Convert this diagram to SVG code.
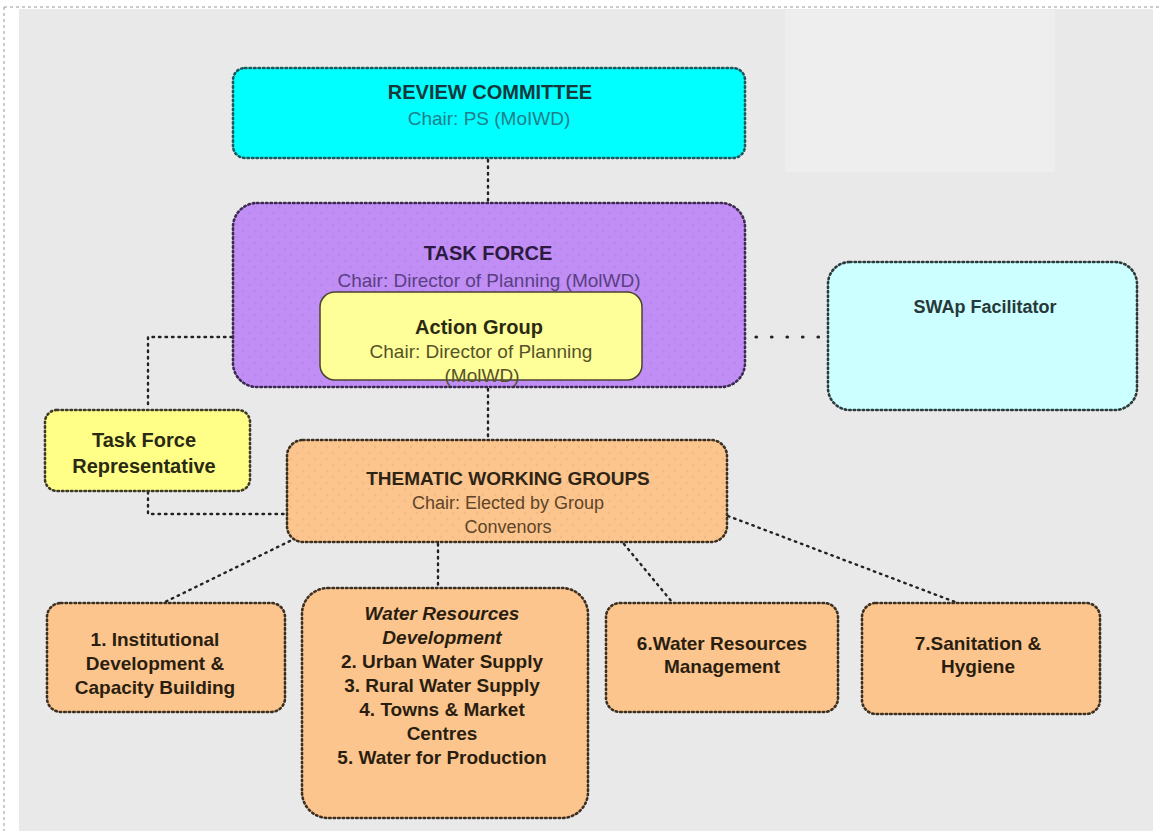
<svg xmlns="http://www.w3.org/2000/svg" width="1162" height="831" viewBox="0 0 1162 831">
<defs>
<style>
text{font-family:"Liberation Sans",Arial,sans-serif;text-anchor:middle}
.b{font-weight:bold}
.box{stroke-width:2.6;stroke-dasharray:1.5 3;stroke-linecap:round}
.con{fill:none;stroke:#222;stroke-width:2.4;stroke-dasharray:1.5 5;stroke-linecap:round}
.wide{stroke-width:3.2;stroke-dasharray:0.5 15}
</style>
<pattern id="dots" width="12" height="12" patternUnits="userSpaceOnUse">
<circle cx="3" cy="3" r="1.2" fill="#000" fill-opacity="0.05"/>
<circle cx="9" cy="9" r="1.2" fill="#000" fill-opacity="0.05"/>
</pattern>
</defs>
<rect x="0" y="0" width="1162" height="831" fill="#ffffff"/>
<rect x="19" y="9" width="1134" height="822" fill="#e9e9e9"/>
<rect x="785" y="10" width="270" height="162" fill="#eeeeee"/>
<path d="M4 7H1162M4 7V831" fill="none" stroke="#9a9a9a" stroke-width="1" stroke-dasharray="3 3"/>

<g id="connectors">
<line class="con" x1="488" y1="160" x2="488" y2="202"/>
<line class="con" x1="488" y1="389" x2="488" y2="439"/>
<line x1="236" y1="337" x2="320" y2="337" stroke="#7a4aa0" stroke-width="1.5" stroke-dasharray="3 1"/>
<line x1="642" y1="337" x2="745" y2="337" stroke="#7a4aa0" stroke-width="1.5"/>
<line class="con wide" x1="756" y1="337" x2="826" y2="337"/>
<polyline class="con" points="232,337 148,337 148,409"/>
<polyline class="con" points="148,492 148,514 286,514"/>
<line class="con" x1="290" y1="541" x2="165" y2="602"/>
<line class="con" x1="438" y1="544" x2="438" y2="587"/>
<line class="con" x1="624" y1="544" x2="672" y2="602"/>
<line class="con" x1="728" y1="516" x2="955" y2="602"/>
</g>

<g id="review-committee">
<rect class="box" x="233" y="68" width="512" height="90" rx="12" fill="#00ffff" stroke="#1d5a5e"/>
<text x="490" y="99" class="b" font-size="20" fill="#16383c">REVIEW COMMITTEE</text>
<text x="489" y="125" font-size="19" fill="#1f7f8c">Chair: PS (MoIWD)</text>
</g>

<g id="task-force">
<rect class="box" x="233" y="203" width="512" height="184" rx="24" fill="#c18ef6" stroke="#3c2a52"/>
<rect x="233" y="203" width="512" height="184" rx="24" fill="url(#dots)"/>
<text x="488" y="260" class="b" font-size="20" fill="#2c1a40">TASK FORCE</text>
<text x="489" y="287" font-size="19" fill="#5a3f82">Chair: Director of Planning (MolWD)</text>
</g>

<g id="action-group">
<rect x="320" y="292" width="322" height="88" rx="15" fill="#ffff99" stroke="#4a4330" stroke-width="1.5"/>
<text x="479" y="334" class="b" font-size="20" fill="#2a2a12">Action Group</text>
<text x="481" y="358" font-size="19" fill="#55522a">Chair: Director of Planning</text>
<text x="482" y="382" font-size="19" fill="#55522a">(MolWD)</text>
</g>

<g id="swap-facilitator">
<rect class="box" x="828" y="262" width="309" height="148" rx="22" fill="#ccffff" stroke="#2c3c3c"/>
<text x="985" y="313" class="b" font-size="18" fill="#283838">SWAp  Facilitator</text>
</g>

<g id="task-force-representative">
<rect class="box" x="45" y="410" width="205" height="81" rx="12" fill="#ffff88" stroke="#3e3a28"/>
<text x="144" y="447" class="b" font-size="20" fill="#2a2a12">Task Force</text>
<text x="144" y="473" class="b" font-size="20" fill="#2a2a12">Representative</text>
</g>

<g id="thematic-working-groups">
<rect class="box" x="287" y="440" width="440" height="102" rx="16" fill="#fcc58e" stroke="#3e3020"/>
<rect x="287" y="440" width="440" height="102" rx="16" fill="url(#dots)"/>
<text x="508" y="485" class="b" font-size="19" fill="#2e2414">THEMATIC WORKING GROUPS</text>
<text x="508" y="509" font-size="18" fill="#5e4428">Chair: Elected by Group</text>
<text x="508" y="533" font-size="18" fill="#5e4428">Convenors</text>
</g>

<g id="group-1">
<rect class="box" x="47" y="603" width="238" height="109" rx="14" fill="#fcc58e" stroke="#3e3020"/>
<text x="155" y="646" class="b" font-size="19" fill="#2a1e10">1. Institutional</text>
<text x="155" y="670" class="b" font-size="19" fill="#2a1e10">Development &amp;</text>
<text x="155" y="694" class="b" font-size="19" fill="#2a1e10">Capacity Building</text>
</g>

<g id="group-2-5">
<rect class="box" x="302" y="588" width="286" height="230" rx="26" fill="#fcc58e" stroke="#3e3020"/>
<text x="442" y="620" class="b" font-size="19" font-style="italic" fill="#2a1e10">Water Resources</text>
<text x="442" y="644" class="b" font-size="19" font-style="italic" fill="#2a1e10">Development</text>
<text x="442" y="668" class="b" font-size="19" fill="#2a1e10">2. Urban Water  Supply</text>
<text x="442" y="692" class="b" font-size="19" fill="#2a1e10">3. Rural Water  Supply</text>
<text x="442" y="716" class="b" font-size="19" fill="#2a1e10">4. Towns &amp; Market</text>
<text x="442" y="740" class="b" font-size="19" fill="#2a1e10">Centres</text>
<text x="442" y="764" class="b" font-size="19" fill="#2a1e10">5. Water for Production</text>
</g>

<g id="group-6">
<rect class="box" x="606" y="603" width="232" height="109" rx="14" fill="#fcc58e" stroke="#3e3020"/>
<text x="722" y="650" class="b" font-size="19" fill="#2a1e10">6.Water Resources</text>
<text x="722" y="673" class="b" font-size="19" fill="#2a1e10">Management</text>
</g>

<g id="group-7">
<rect class="box" x="862" y="603" width="238" height="111" rx="14" fill="#fcc58e" stroke="#3e3020"/>
<text x="978" y="650" class="b" font-size="19" fill="#2a1e10">7.Sanitation &amp;</text>
<text x="978" y="673" class="b" font-size="19" fill="#2a1e10">Hygiene</text>
</g>
</svg>
